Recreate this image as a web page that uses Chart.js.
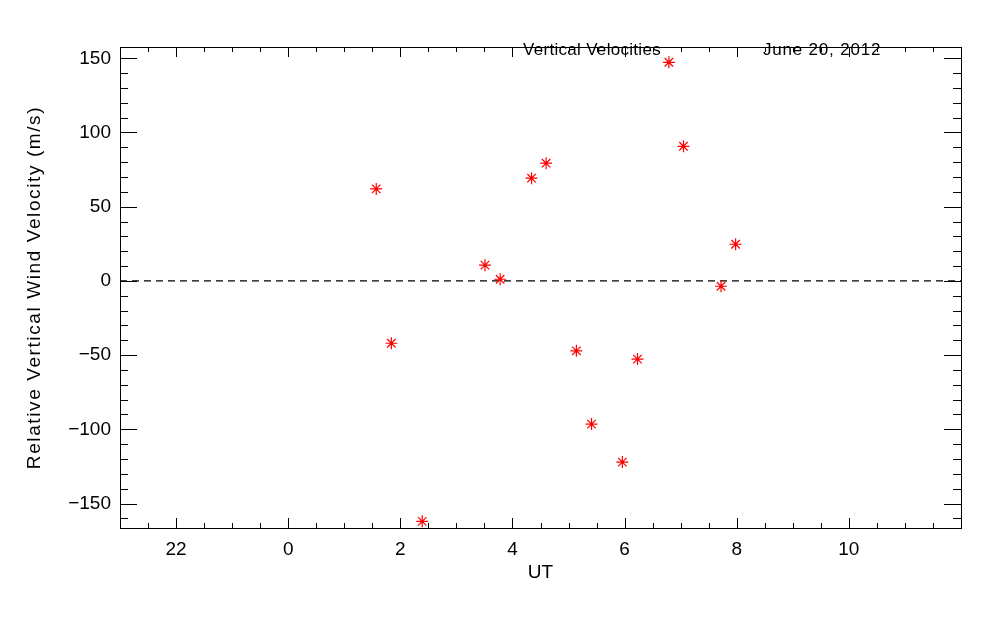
<!DOCTYPE html>
<html>
<head>
<meta charset="utf-8">
<script src="https://cdn.jsdelivr.net/npm/chart.js@4/dist/chart.umd.min.js"></script>
<style>
  html, body { margin: 0; padding: 0; background: #fff; }
  #wrap { width: 1000px; height: 625px; position: relative; }
</style>
</head>
<body>
<div id="wrap"><canvas id="chartVel"></canvas></div>
<script>
// UT hours (values past midnight) and relative vertical wind velocities (m/s)
const utHours    = [1.57, 1.84, 2.39, 3.51, 3.78, 4.34, 4.60, 5.14, 5.41, 5.96, 6.23, 6.79, 7.05, 7.72, 7.98];
const velocities = [62.0, -42.0, -162.0, 10.6, 1.1, 69.2, 79.3, -47.1, -96.5, -122.1, -52.7, 147.3, 90.7, -3.6, 24.7];

const xTicks      = [-2, 0, 2, 4, 6, 8, 10];
const xTickLabels = ['22', '0', '2', '4', '6', '8', '10'];
const yTicks      = [-150, -100, -50, 0, 50, 100, 150];

const plotTitle = 'Vertical Velocities';
const plotDate  = 'June 20, 2012';

const FONT = '"Liberation Sans", Arial, sans-serif';

// IDL-like frame: box with inward major/minor ticks on all four sides, plus text
const idlFrame = {
    id: 'idlFrame',
    afterDraw(chart) {
        const { ctx, chartArea: a, scales } = chart;
        const xs = scales.x, ys = scales.y;
        ctx.save();
        ctx.strokeStyle = '#000';
        ctx.lineWidth = 1;
        ctx.strokeRect(a.left + 0.5, a.top + 0.5, a.right - a.left, a.bottom - a.top);

        ctx.beginPath();
        for (let v = -3; v <= 12; v += 0.5) {
            const px = Math.round(xs.getPixelForValue(v)) + 0.5;
            const len = (v % 2 === 0) ? 10 : 5;
            ctx.moveTo(px, a.bottom); ctx.lineTo(px, a.bottom - len);
            ctx.moveTo(px, a.top);    ctx.lineTo(px, a.top + len);
        }
        for (let v = -160; v <= 150; v += 10) {
            const py = Math.round(ys.getPixelForValue(v)) + 0.5;
            const len = (v % 50 === 0) ? 17 : 8;
            ctx.moveTo(a.left, py);  ctx.lineTo(a.left + len, py);
            ctx.moveTo(a.right, py); ctx.lineTo(a.right - len, py);
        }
        ctx.stroke();

        ctx.fillStyle = '#000';
        ctx.font = '17px ' + FONT;
        ctx.letterSpacing = '0.3px';
        ctx.textBaseline = 'alphabetic';
        ctx.textAlign = 'left';
        ctx.fillText(plotTitle, 523, 55);
        ctx.letterSpacing = '0.8px';
        ctx.fillText(plotDate, 763, 55);

        ctx.font = '19px ' + FONT;
        ctx.letterSpacing = '0px';
        ctx.textAlign = 'center';
        ctx.fillText('UT', (a.left + a.right) / 2, 578);

        ctx.translate(40, (a.top + a.bottom) / 2);
        ctx.rotate(-Math.PI / 2);
        ctx.letterSpacing = '1.6px';
        ctx.fillText('Relative Vertical Wind Velocity (m/s)', 0, 0);
        ctx.restore();
    }
};

const ctx = document.getElementById('chartVel');

new Chart(ctx, {
    type: 'scatter',
    data: {
        datasets: [{
            label: 'Velocity',
            data: utHours.map((h, i) => ({ x: h, y: velocities[i] })),
            pointStyle: 'star',
            pointRadius: 6,
            borderColor: '#ff0000',
            backgroundColor: '#ff0000',
            borderWidth: 1.2
        }, {
            type: 'line',
            label: 'zero',
            data: [{ x: -3, y: 0 }, { x: 12, y: 0 }],
            borderColor: '#000',
            borderWidth: 1.3,
            borderDash: [7, 5],
            pointRadius: 0
        }]
    },
    options: {
        responsive: true,
        maintainAspectRatio: false,
        animation: false,
        layout: { padding: { top: 47, right: 39, left: 0, bottom: 0 } },
        plugins: {
            legend: { display: false },
            tooltip: { enabled: false }
        },
        scales: {
            x: {
                type: 'linear',
                min: -3,
                max: 12,
                grid: { display: false, drawTicks: false },
                border: { display: false },
                afterFit: s => { s.height = 97; },
                afterBuildTicks: s => { s.ticks = xTicks.map(v => ({ value: v })); },
                ticks: {
                    autoSkip: false,
                    maxRotation: 0,
                    padding: 10,
                    color: '#000',
                    font: { family: FONT, size: 19 },
                    callback: (v) => xTickLabels[xTicks.indexOf(v)]
                }
            },
            y: {
                type: 'linear',
                min: -166.5,
                max: 157.6,
                grid: { display: false, drawTicks: false },
                border: { display: false },
                afterFit: s => { s.width = 120; },
                afterBuildTicks: s => { s.ticks = yTicks.map(v => ({ value: v })); },
                ticks: {
                    autoSkip: false,
                    padding: 9,
                    color: '#000',
                    font: { family: FONT, size: 19 },
                    callback: (v) => (v < 0 ? '\u2212' + Math.abs(v) : String(v))
                }
            }
        }
    },
    plugins: [idlFrame]
});
</script>
</body>
</html>
